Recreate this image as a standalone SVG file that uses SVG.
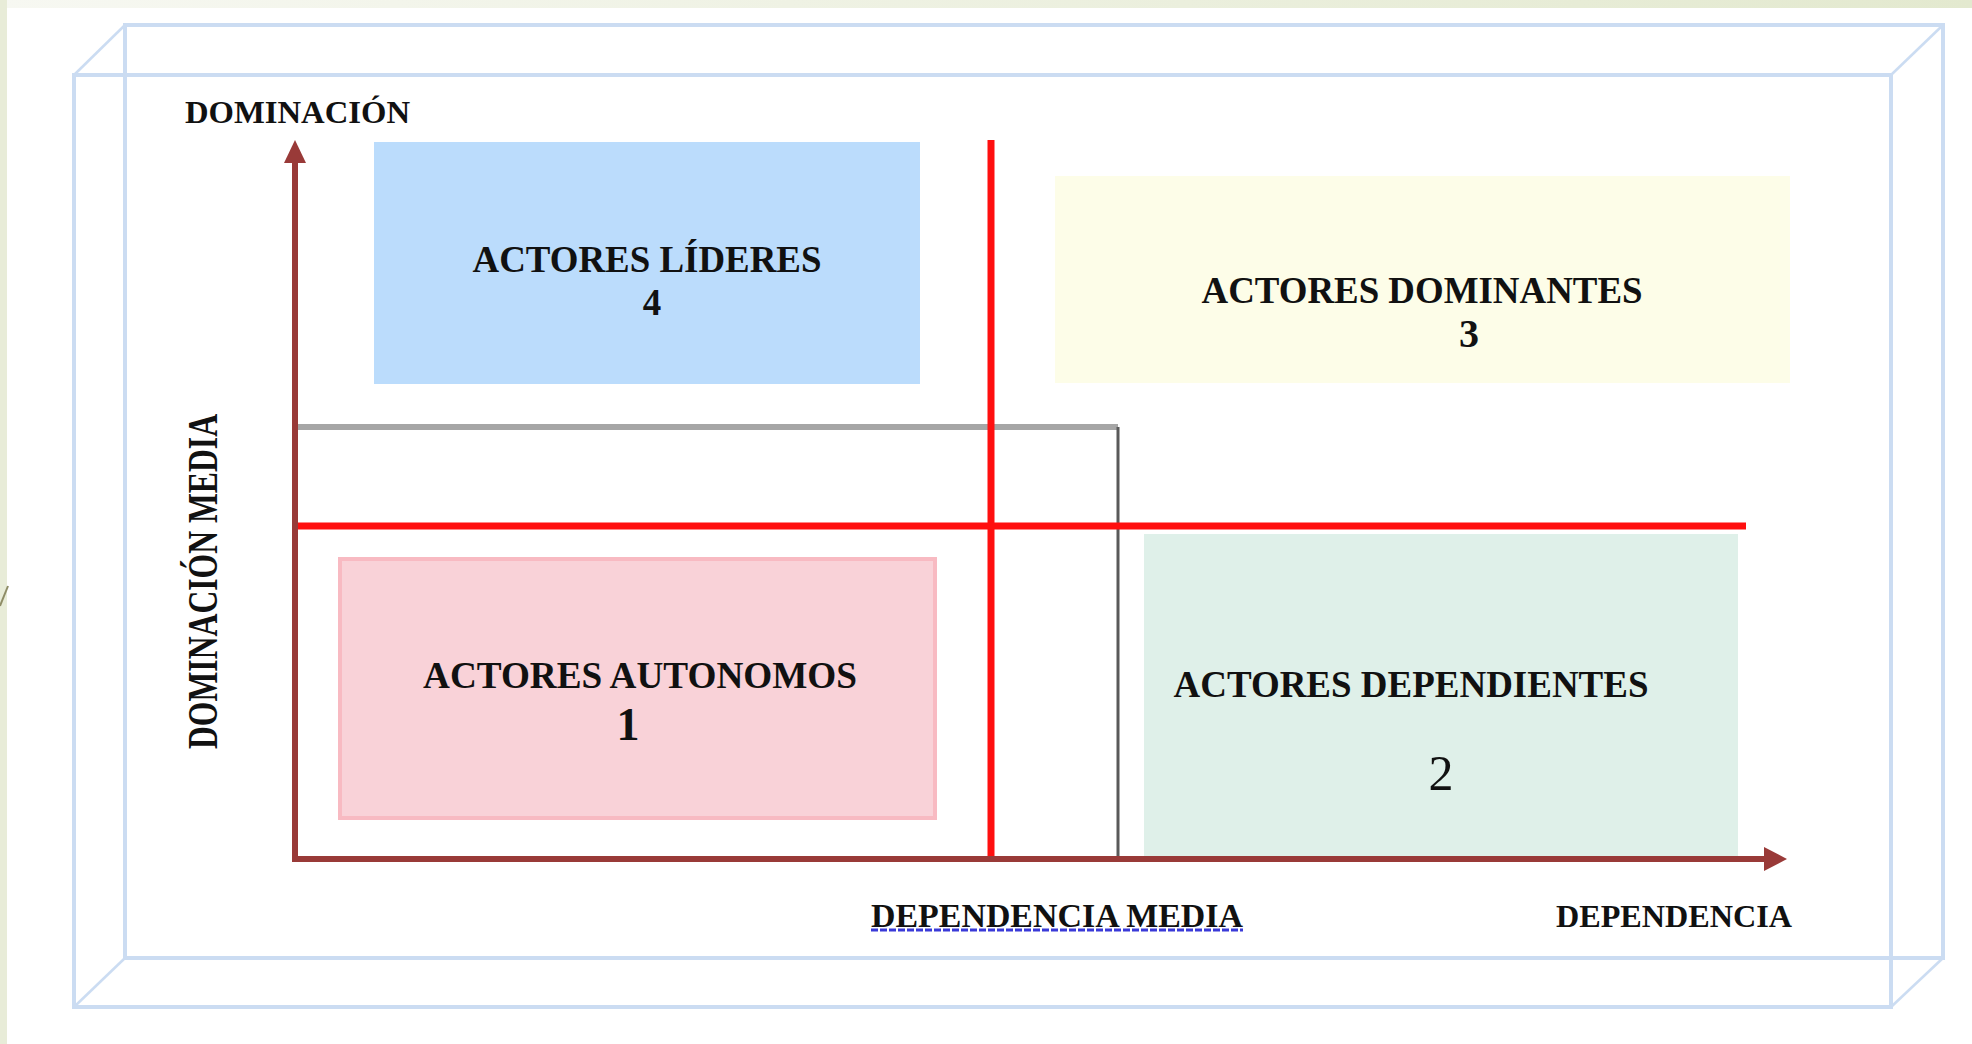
<svg xmlns="http://www.w3.org/2000/svg" width="1972" height="1044" viewBox="0 0 1972 1044">
  <defs>
    <linearGradient id="topband" x1="0" y1="0" x2="1" y2="0">
      <stop offset="0" stop-color="#f7f8f2"/>
      <stop offset="1" stop-color="#e3e9cf"/>
    </linearGradient>
    <style>
      .frame { fill: none; stroke: #cbdcf2; stroke-width: 4; }
      .diag { fill: none; stroke: #cbdcf2; stroke-width: 2.5; }
      .lbl { font-family: "Liberation Serif", "Times New Roman", serif; font-weight: bold; fill: #111111; }
      .node { font-family: "Liberation Serif", "Times New Roman", serif; font-weight: bold; fill: #111111; font-size: 37px; text-anchor: middle; }
      .axis { stroke: #993a38; stroke-width: 6; fill: none; }
      .axhead { fill: #993a38; }
      .redline { stroke: #ff0f0f; stroke-width: 7; fill: none; }
    </style>
  </defs>

  <!-- page background -->
  <rect x="0" y="0" width="1972" height="1044" fill="#ffffff"/>
  <rect x="0" y="0" width="1972" height="8" fill="url(#topband)"/>
  <rect x="0" y="0" width="7" height="1044" fill="#e8ecd8"/>
  <line x1="0" y1="606" x2="8" y2="586" stroke="#8e8c66" stroke-width="2"/>

  <!-- 3D frame -->
  <g id="frame">
    <rect class="frame" x="125" y="25" width="1818" height="933"/>
    <rect class="frame" x="74" y="75" width="1817" height="932" stroke="#d3e0f2"/>
    <line class="diag" x1="74" y1="75" x2="125" y2="25"/>
    <line class="diag" x1="1891" y1="75" x2="1943" y2="25"/>
    <line class="diag" x1="1891" y1="1007" x2="1943" y2="958"/>
    <line class="diag" x1="74" y1="1007" x2="125" y2="958"/>
  </g>

  <!-- quadrant boxes -->
  <g id="node-lideres">
    <rect x="374" y="142" width="546" height="242" fill="#bbdcfc"/>
    <text class="node" x="647" y="272" textLength="349" lengthAdjust="spacingAndGlyphs">ACTORES LÍDERES</text>
    <text class="node" x="652" y="315">4</text>
  </g>
  <g id="node-dominantes">
    <rect x="1055" y="176" width="735" height="207" fill="#fdfde8"/>
    <text class="node" x="1422" y="303" textLength="441" lengthAdjust="spacingAndGlyphs">ACTORES DOMINANTES</text>
    <text class="node" x="1469" y="347" style="font-size:40px">3</text>
  </g>
  <g id="node-autonomos">
    <rect x="340" y="559" width="595" height="259" fill="#f9d2d8" stroke="#f8bac2" stroke-width="4"/>
    <text class="node" x="640" y="688" textLength="434" lengthAdjust="spacingAndGlyphs">ACTORES AUTONOMOS</text>
    <text class="node" x="628" y="740" style="font-size:46px">1</text>
  </g>
  <g id="node-dependientes">
    <rect x="1144" y="534" width="594" height="328" fill="#dff0e9"/>
    <text class="node" x="1411" y="697" textLength="475" lengthAdjust="spacingAndGlyphs">ACTORES DEPENDIENTES</text>
    <text class="node" x="1441" y="790" style="font-size:50px;font-weight:normal">2</text>
  </g>

  <!-- connectors: axes and reference lines -->
  <g id="connectors">
    <line x1="295" y1="427" x2="1118" y2="427" stroke="#a6a6a6" stroke-width="6"/>
    <line x1="1118" y1="427" x2="1118" y2="859" stroke="#5a5a5a" stroke-width="3"/>
    <line class="redline" x1="991" y1="140" x2="991" y2="859"/>
    <line class="redline" x1="295" y1="526" x2="1746" y2="526"/>
    <line class="axis" x1="295" y1="862" x2="295" y2="158"/>
    <polygon class="axhead" points="295,140 284,163 306,163"/>
    <line class="axis" x1="292" y1="859" x2="1770" y2="859"/>
    <polygon class="axhead" points="1787,859 1764,847 1764,871"/>
  </g>

  <!-- axis labels -->
  <g id="labels">
    <text class="lbl" x="185" y="123" font-size="31" textLength="225" lengthAdjust="spacingAndGlyphs">DOMINACIÓN</text>
    <text class="lbl" transform="translate(217,749) rotate(-90)" x="0" y="0" font-size="42" textLength="335" lengthAdjust="spacingAndGlyphs">DOMINACIÓN MEDIA</text>
    <text class="lbl" x="871" y="927" font-size="33" textLength="372" lengthAdjust="spacingAndGlyphs">DEPENDENCIA  MEDIA</text>
    <line x1="871" y1="930" x2="1243" y2="930" stroke="#3a3ad8" stroke-width="3" stroke-dasharray="7 2"/>
    <text class="lbl" x="1556" y="927" font-size="32" textLength="236" lengthAdjust="spacingAndGlyphs">DEPENDENCIA</text>
  </g>
</svg>
